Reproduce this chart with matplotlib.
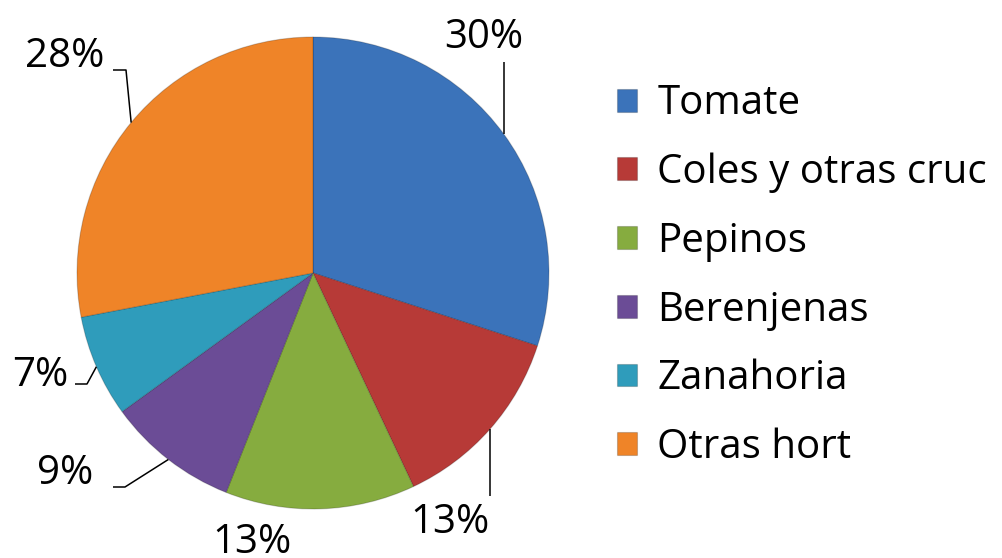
import numpy as np
import matplotlib
matplotlib.use("Agg")
import matplotlib.pyplot as plt

CATEGORIES = ["Tomate", "Coles y otras cruc", "Pepinos", "Berenjenas",
              "Zanahoria", "Otras hort"]
SHARES = [30, 13, 13, 9, 7, 28]
COLORS = ["#3b73ba", "#b73a37", "#86ac3f", "#6b4c96", "#2f9cbb", "#ef8428"]

plt.rcParams["font.family"] = ["Open Sans", "DejaVu Sans"]

W, H = 1002, 558
CX, CY, R = 313, H - 273, 236

# label layout in pixels from the top-left corner: text centre, leader bends
LABEL_POS = [(484, 38), (450, 523), (252, 543), (65, 474), (40, 376), (65, 57)]
LEADER_BENDS = [
    [("edge", 62)],
    [("edge", 496)],
    [],
    [(125, 487), (113, 487)],
    [(87, 384), (75, 384)],
    [(126, 70), (113, 70)],
]

fig = plt.figure(figsize=(W / 100, H / 100), dpi=100)
ax = fig.add_axes([0, 0, 1, 1])

wedges, _ = ax.pie(SHARES, colors=COLORS, startangle=90, counterclock=False,
                   center=(CX, CY), radius=R, frame=True,
                   wedgeprops=dict(edgecolor="#00000030", lw=0.8))
ax.set_xlim(0, W)
ax.set_ylim(0, H)
ax.set_aspect("equal")
ax.axis("off")

for w, v, (tx, ty), bends in zip(wedges, SHARES, LABEL_POS, LEADER_BENDS):
    mid = np.deg2rad((w.theta1 + w.theta2) / 2)
    ex, ey = CX + R * np.cos(mid), CY + R * np.sin(mid)
    if bends:
        xs, ys = [ex], [ey]
        for bx, by in bends:
            xs.append(ex if bx == "edge" else bx)
            ys.append(H - by)
        ax.plot(xs, ys, color="black", lw=1.1, solid_capstyle="butt")
    ax.text(tx, H - ty, f"{v}%", fontsize=29, ha="center", va="center")

leg = ax.legend(wedges, CATEGORIES, loc="upper left",
                bbox_to_anchor=(617 / W, 1 - 84 / H), frameon=False,
                fontsize=29, handlelength=0.5, handleheight=0.5,
                handletextpad=0.5, labelspacing=0.70, borderpad=0,
                borderaxespad=0)

fig.savefig("out.png", dpi=100)
